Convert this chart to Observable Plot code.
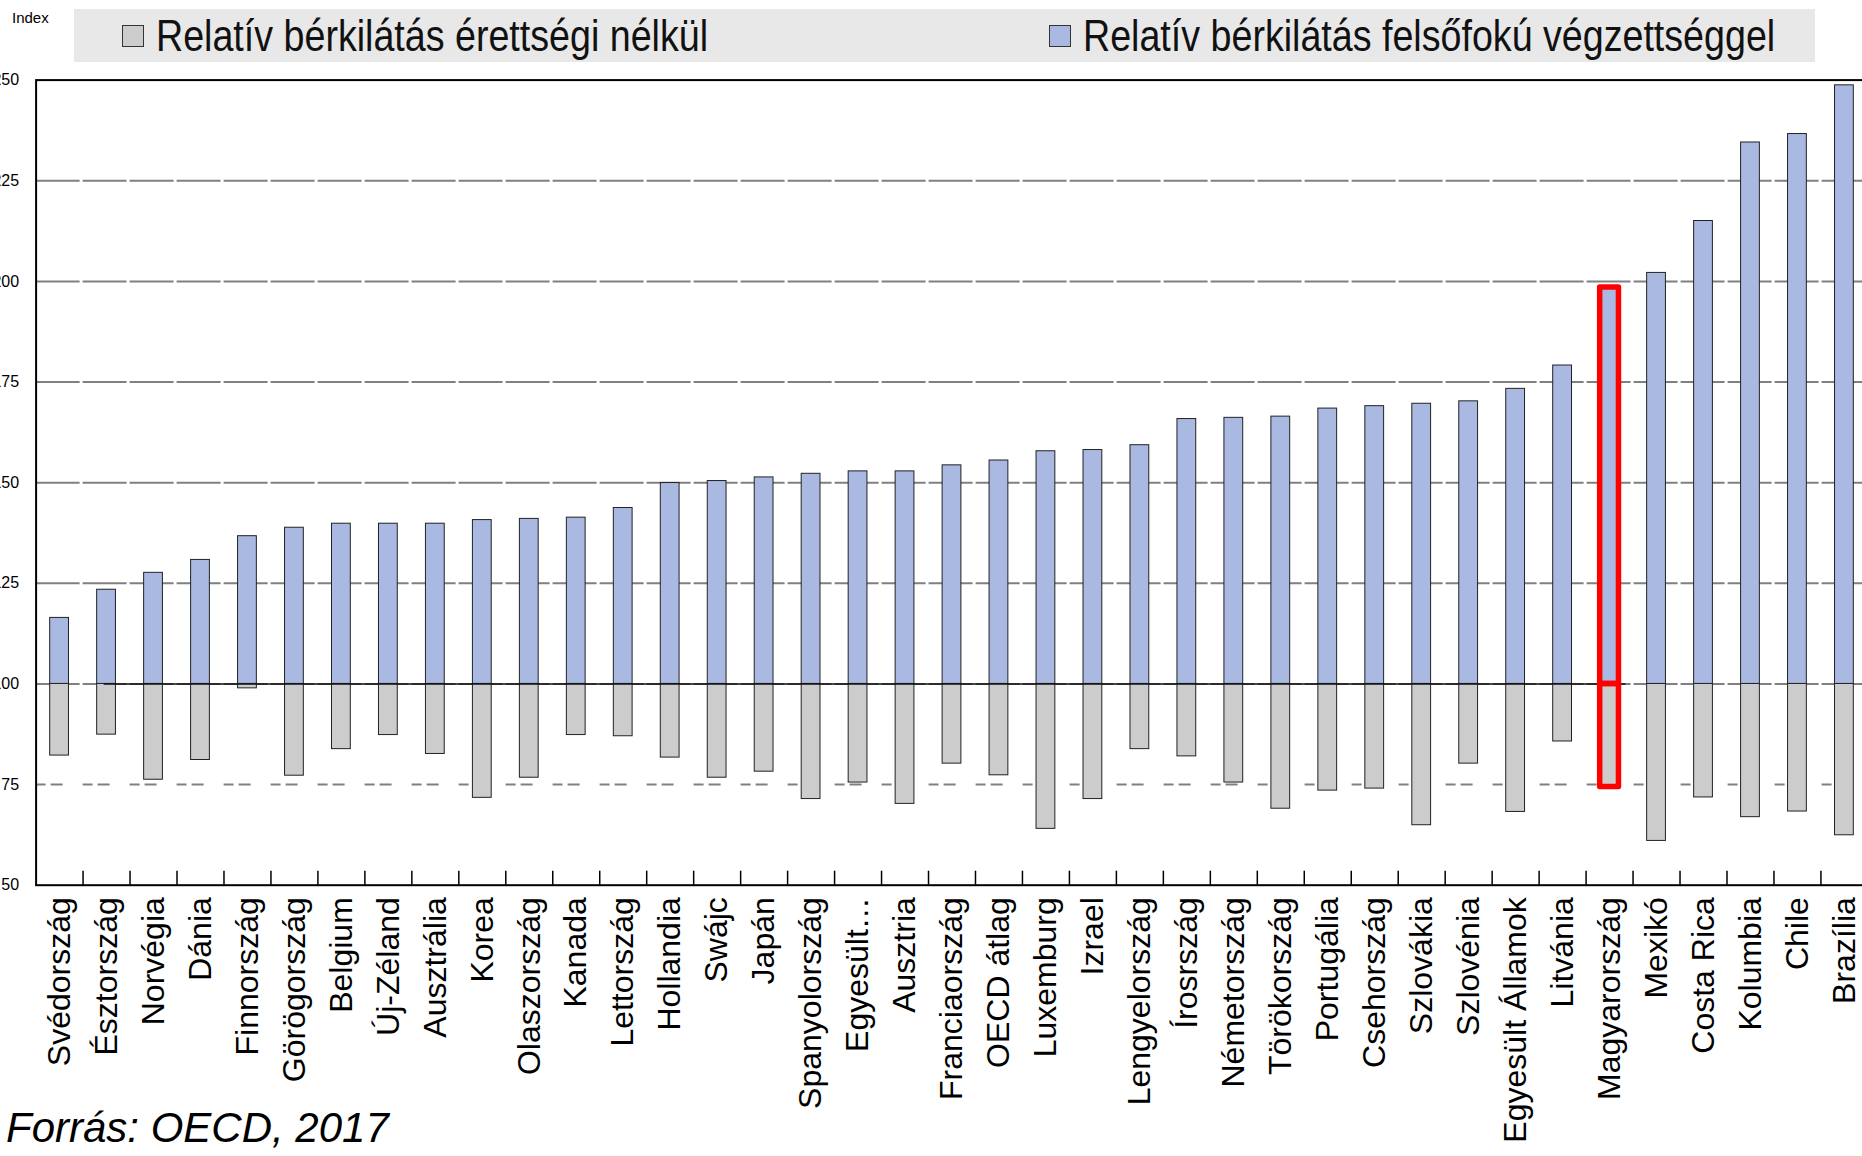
<!DOCTYPE html>
<html>
<head>
<meta charset="utf-8">
<script src="https://cdn.jsdelivr.net/npm/d3@7"></script>
<script src="https://cdn.jsdelivr.net/npm/@observablehq/plot@0.6"></script>
<style>
  html, body { margin: 0; padding: 0; background: #fff; overflow: hidden; }
  body { width: 1862px; height: 1156px; position: relative; font-family: "Liberation Sans", Arial, sans-serif; }
  #index { position: absolute; left: 12px; top: 9px; font-size: 15px; color: #000; }
  #legend { position: absolute; left: 74px; top: 9px; width: 1741px; height: 53px; background: #e8e8e8; }
  .item { position: absolute; top: 0; height: 53px; display: flex; align-items: center; color: #111; white-space: nowrap; }
  .sw { width: 20px; height: 20px; border: 1.5px solid #333; margin-right: 12px; flex: none; }
  .lt { display: inline-block; font-size: 44px; transform: scaleX(0.855); transform-origin: left center; }
  #chart { position: absolute; left: -20px; top: 70px; }
  #source { position: absolute; left: 6px; top: 1104px; font-size: 42px; font-style: italic; color: #000; }
</style>
</head>
<body>
<div id="index">Index</div>
<div id="legend">
  <div class="item" style="left:48px"><div class="sw" style="background:#cccccc"></div><span class="lt" id="lg1"></span></div>
  <div class="item" style="left:975px"><div class="sw" style="background:#a9b9e2"></div><span class="lt" id="lg2"></span></div>
</div>
<div id="chart"></div>
<div id="source">Forrás: OECD, 2017</div>
<script>
const countries = ["Svédország","Észtország","Norvégia","Dánia","Finnország","Görögország","Belgium","Új-Zéland","Ausztrália","Korea","Olaszország","Kanada","Lettország","Hollandia","Swájc","Japán","Spanyolország","Egyesült…","Ausztria","Franciaország","OECD átlag","Luxemburg","Izrael","Lengyelország","Írosrszág","Németország","Törökország","Portugália","Csehország","Szlovákia","Szlovénia","Egyesült Államok","Litvánia","Magyarország","Mexikó","Costa Rica","Kolumbia","Chile","Brazília"];
const withoutUpperSecondary = [82.2,87.4,76.2,81.1,98.9,77.2,83.8,87.3,82.6,71.7,76.7,87.3,87.0,81.7,76.7,78.2,71.4,75.5,70.2,80.2,77.3,64.0,71.4,83.8,82.0,75.5,69.0,73.5,74.0,64.9,80.2,68.2,85.7,74.4,61.0,71.8,66.9,68.3,62.4];
const tertiary = [116.4,123.4,127.6,130.8,136.7,138.8,139.8,139.8,139.8,140.7,141.0,141.3,143.7,149.9,150.4,151.3,152.2,152.8,152.8,154.3,155.5,157.8,158.1,159.3,165.8,166.1,166.4,168.4,169.0,169.6,170.2,173.3,179.1,198.5,202.1,215.0,234.5,236.6,248.7];
const seriesNames = ["Relatív bérkilátás érettségi nélkül", "Relatív bérkilátás felsőfokú végzettséggel"];
const yTicks = [50,75,100,125,150,175,200,225,250];
const solidGrid = [125,150,175,200,225,100];
const lowGrid = [75];
const baselineValue = 100;
const lineFrom = "Észtország", lineTo = "Magyarország";
const highlight = "Magyarország";

document.getElementById("lg1").textContent = seriesNames[0];
document.getElementById("lg2").textContent = seriesNames[1];

const rows = countries.map((c, i) => ({country: c, low: withoutUpperSecondary[i], high: tertiary[i]}));
const hl = rows.filter(d => d.country === highlight);

const svgLeft = -20, X0 = 35.6, X1 = 1867.4;
const W = 1890, H = 1085;
const marginLeft = X0 - svgLeft;
const marginRight = W - (X1 - svgLeft);
const step = (X1 - X0) / countries.length;

const chart = Plot.plot({
  width: W, height: H,
  marginLeft, marginRight,
  marginTop: 9.6, marginBottom: 270.3,
  style: {fontFamily: "'Liberation Sans', Arial, sans-serif", maxWidth: "none", overflow: "hidden", background: "transparent", color: "#000"},
  x: {domain: countries, paddingInner: 0.6, paddingOuter: 0.3, label: null},
  y: {domain: [50, 250], label: null},
  marks: [
    Plot.ruleY(solidGrid, {stroke: "#808080", strokeWidth: 2, strokeDasharray: "44,3"}),
    Plot.ruleY(lowGrid, {stroke: "#808080", strokeWidth: 2, strokeDasharray: "10,5,12,20"}),
    Plot.barY(rows, {x: "country", y1: baselineValue, y2: "low", fill: "#cccccc", stroke: "#222", strokeWidth: 1}),
    Plot.barY(rows, {x: "country", y1: baselineValue, y2: "high", fill: "#a9b9e2", stroke: "#222", strokeWidth: 1}),
    Plot.ruleY([baselineValue], {x1: () => lineFrom, x2: () => lineTo, dx: 7, stroke: "#111", strokeWidth: 1.6}),
    Plot.barY(hl, {x: "country", y1: baselineValue, y2: "low", fill: "none", stroke: "#ff0000", strokeWidth: 5.5, strokeLinejoin: "round"}),
    Plot.barY(hl, {x: "country", y1: baselineValue, y2: "high", fill: "none", stroke: "#ff0000", strokeWidth: 5.5, strokeLinejoin: "round"}),
    Plot.frame({stroke: "#000", strokeWidth: 2}),
    Plot.axisY({ticks: yTicks, tickSize: 0, tickPadding: 17, fontSize: 16}),
    Plot.axisX({tickSize: -14, tickFormat: () => "", dx: step / 2, strokeWidth: 1.5}),
    Plot.axisX({tickSize: 0, tickPadding: 12, tickRotate: -90, fontSize: 32})
  ]
});
document.getElementById("chart").appendChild(chart);
</script>
</body>
</html>
